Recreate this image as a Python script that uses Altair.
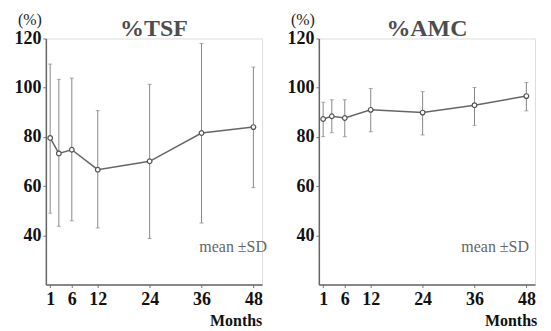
import altair as alt
import pandas as pd

months = [1, 3, 6, 12, 24, 36, 48]
tick_months = [1, 6, 12, 24, 36, 48]
y_ticks = [40, 60, 80, 100, 120]

tsf_mean = [79.6, 73.3, 74.8, 66.7, 70.1, 81.6, 84.0]
tsf_upper = [109.6, 103.4, 103.9, 90.7, 101.4, 118.0, 108.4]
tsf_lower = [49.0, 43.7, 45.9, 43.0, 38.7, 45.0, 59.4]

amc_mean = [87.3, 88.4, 87.7, 91.0, 89.9, 92.9, 96.6]
amc_upper = [94.1, 95.1, 95.1, 99.7, 98.4, 100.1, 102.1]
amc_lower = [80.1, 81.7, 80.1, 82.1, 80.8, 84.7, 90.6]

titles = ["%TSF", "%AMC"]
unit_label = "(%)"
note_label = "mean \u00b1SD"
x_label = "Months"

W = 217
H = 247
SERIF = "Liberation Serif"


def panel(mean, lo, hi, title, note_x, months_x):
    df = pd.DataFrame({"month": months, "mean": mean, "lo": lo, "hi": hi})
    xs = alt.Scale(domain=[0, 50], nice=False, zero=False)
    ys = alt.Scale(domain=[20, 120], nice=False, zero=False)
    xaxis = alt.Axis(values=tick_months, title=None, grid=False,
                     labelFont=SERIF, labelFontWeight="bold", labelFontSize=18,
                     labelColor="#111", tickSize=3, labelPadding=3,
                     domainColor="#666", tickColor="#777", domainWidth=1.5,
                     labelFlush=False)
    yaxis = alt.Axis(values=y_ticks, title=None, grid=False,
                     labelFont=SERIF, labelFontWeight="bold", labelFontSize=18,
                     labelColor="#111", tickSize=3, labelPadding=2,
                     domainColor="#666", tickColor="#777", domainWidth=1.5)
    X = alt.X("month:Q", scale=xs, axis=xaxis)
    base = alt.Chart(df)
    rules = base.mark_rule(color="#888", strokeWidth=1).encode(
        x=X, y=alt.Y("lo:Q", scale=ys, axis=yaxis), y2="hi:Q")
    cap_hi = base.mark_tick(orient="horizontal", size=4, thickness=1, color="#888").encode(
        x=X, y=alt.Y("hi:Q", scale=ys, axis=yaxis))
    cap_lo = base.mark_tick(orient="horizontal", size=4, thickness=1, color="#888").encode(
        x=X, y=alt.Y("lo:Q", scale=ys, axis=yaxis))
    line = base.mark_line(color="#666", strokeWidth=1.5).encode(
        x=X, y=alt.Y("mean:Q", scale=ys, axis=yaxis))
    pts = base.mark_point(shape="circle", filled=True, fill="white", stroke="#555",
                          strokeWidth=1.2, size=22, opacity=1).encode(
        x=X, y=alt.Y("mean:Q", scale=ys, axis=yaxis))

    def txt(s, x, y, size, weight="normal", color="#222", baseline="middle", align="center"):
        return alt.Chart(pd.DataFrame({"t": [s]})).mark_text(
            font=SERIF, fontSize=size, fontWeight=weight, color=color,
            baseline=baseline, align=align).encode(
            text="t:N", x=alt.value(x), y=alt.value(y))

    t_title = txt(title, W / 2, -2, 24, "bold", "#4d4d4d", "alphabetic")
    t_unit = txt(unit_label, -16, -19, 16)
    t_note = txt(note_label, note_x, 209, 16, color="#666")
    t_months = txt(x_label, months_x, H + 42, 16, "bold", "#111", "alphabetic")

    return alt.layer(rules, cap_hi, cap_lo, line, pts, t_title, t_unit, t_note, t_months).properties(
        width=W, height=H)


left = panel(tsf_mean, tsf_lower, tsf_upper, titles[0], 188, 191)
right = panel(amc_mean, amc_lower, amc_upper, titles[1], 177, 193)

chart = alt.hconcat(left, right, spacing=57, bounds="flush").properties(
    padding={"left": 5, "top": 2, "right": 5, "bottom": 0}
).configure_view(stroke=None).configure(background="white")

chart.save("out.html", embed_options={"renderer": "svg", "actions": False})
